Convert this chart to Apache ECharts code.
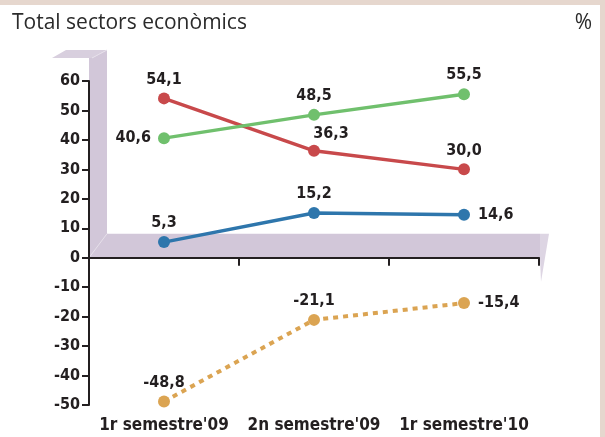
<!DOCTYPE html>
<html>
<head>
<meta charset="utf-8">
<script src="https://cdn.jsdelivr.net/npm/echarts@6/dist/echarts.min.js"></script>
<style>
html, body { margin: 0; padding: 0; background: #fff; }
#chart { width: 605px; height: 437px; }
</style>
</head>
<body>
<div id="chart"></div>
<script>
// 分类
var categories = ['1r semestre\'09', '2n semestre\'09', '1r semestre\'10'];
// 各条线的数值
var redValues = [54.1, 36.3, 30.0];
var greenValues = [40.6, 48.5, 55.5];
var blueValues = [5.3, 15.2, 14.6];
var orangeValues = [-48.8, -21.1, -15.4];
// 纵轴刻度
var yMin = -50;
var yMax = 60;
var yStep = 10;

var narrow = "'DejaVu Sans Condensed', 'DejaVu Sans', sans-serif";
var wallColor = '#d2c7d9';

// 标签位置
var posTop = { position: 'top' };
var posLeft = { position: 'left', distance: 7 };
var posRight = { position: 'right', distance: 8 };
var posTopRight = { position: 'top', offset: [17, 2] };

function fmt (p) {
    return p.value.toFixed(1).replace('.', ',');
}

function makeSeries (values, color, dashed, labelPos) {
    return {
        type: 'line',
        xAxisIndex: 0,
        data: values.map(function (v, i) {
            return { value: v, label: labelPos[i] };
        }),
        symbol: 'circle',
        symbolSize: 12,
        z: 3,
        lineStyle: { color: color, width: dashed ? 4 : 3.5, type: dashed ? [5, 5] : 'solid' },
        itemStyle: { color: color },
        label: {
            show: true,
            position: 'top',
            distance: 5,
            formatter: fmt,
            fontFamily: narrow,
            fontWeight: 'bold',
            fontSize: 16,
            color: '#231f20'
        },
        animation: false
    };
}

var chart = echarts.init(document.getElementById('chart'));

var option = {
    animation: false,
    title: [
        {
            text: 'Total sectors econòmics',
            left: 7, top: 8,
            textStyle: { fontFamily: 'Open Sans', fontSize: 21, fontWeight: 'normal', color: '#2b2b2b' }
        },
        {
            text: '%',
            right: 8, top: 8,
            textStyle: { fontFamily: 'Open Sans', fontSize: 21, fontWeight: 'normal', color: '#2b2b2b' }
        }
    ],
    grid: { left: 89, right: 66, top: 81, bottom: 32 },
    xAxis: [
        {
            type: 'category',
            data: categories,
            axisLine: { onZero: true, lineStyle: { color: '#231f20', width: 2 } },
            axisTick: { show: true, length: 8, lineStyle: { color: '#231f20', width: 2 } },
            axisLabel: { show: false },
            z: 4
        },
        {
            type: 'category',
            data: categories,
            position: 'bottom',
            axisLine: { show: false, onZero: false },
            axisTick: { show: false },
            axisLabel: {
                interval: 0, margin: 12,
                fontFamily: narrow, fontWeight: 'bold', fontSize: 17, color: '#231f20'
            }
        }
    ],
    yAxis: {
        type: 'value',
        min: yMin,
        max: yMax,
        interval: yStep,
        splitLine: { show: false },
        axisLine: { show: true, lineStyle: { color: '#231f20', width: 2 } },
        axisTick: { show: true, length: 7, lineStyle: { color: '#231f20', width: 2 } },
        axisLabel: { margin: 9, fontFamily: narrow, fontWeight: 'bold', fontSize: 16, color: '#231f20' },
        z: 4
    },
    series: [
        makeSeries(redValues, '#c8494b', false, [posTop, posTopRight, posTop]),
        makeSeries(greenValues, '#70c06d', false, [posLeft, posTop, posTop]),
        makeSeries(blueValues, '#2e76ac', false, [posTop, posTop, posRight]),
        makeSeries(orangeValues, '#dba452', true, [posTop, posTop, posRight])
    ]
};

chart.setOption(option);

// 画背景的立体墙
function drawWall () {
    var c0 = chart.convertToPixel({ xAxisIndex: 0 }, 0);
    var c1 = chart.convertToPixel({ xAxisIndex: 0 }, 1);
    var c2 = chart.convertToPixel({ xAxisIndex: 0 }, 2);
    var band = c1 - c0;
    var x0 = c0 - band / 2;
    var xE = c2 + band / 2;
    var y0 = chart.convertToPixel({ yAxisIndex: 0 }, 0);
    var yT = chart.convertToPixel({ yAxisIndex: 0 }, yMax) - 31;

    chart.setOption({
        graphic: [
            { type: 'rect', shape: { x: 0, y: 0, width: 605, height: 5 }, style: { fill: '#e6d7ce' }, z: -5 },
            { type: 'rect', shape: { x: 600, y: 0, width: 5, height: 437 }, style: { fill: '#e6d7ce' }, z: -5 },
            {
                type: 'polygon', z: -4,
                shape: { points: [
                    [x0, yT + 8], [x0 + 18, yT + 8], [x0 + 18, y0 - 24],
                    [xE + 1, y0 - 24], [xE + 1, y0], [x0, y0]
                ] },
                style: { fill: wallColor }
            },
            {
                type: 'polygon', z: -4,
                shape: { points: [[x0 - 37, yT + 8], [x0 - 23, yT], [x0 + 18, yT], [x0 + 3, yT + 8]] },
                style: { fill: '#d8cfde' }
            },
            {
                type: 'polygon', z: -4,
                shape: { points: [[x0 + 3, yT + 8], [x0 + 18, yT], [x0 + 18, yT + 8]] },
                style: { fill: wallColor }
            },
            {
                type: 'polygon', z: -4,
                shape: { points: [[xE + 1, y0 - 24], [xE + 10, y0 - 24], [xE + 2, y0 + 24], [xE + 1, y0]] },
                style: { fill: '#ddd5e3' }
            },
            {
                type: 'line', z: -3,
                shape: { x1: x0, y1: y0, x2: x0 + 18, y2: y0 - 24 },
                style: { stroke: '#e6e0ea', lineWidth: 1 }
            },
            {
                type: 'line', z: -3,
                shape: { x1: x0 + 3, y1: yT + 8, x2: x0 + 18, y2: yT },
                style: { stroke: '#e6e0ea', lineWidth: 1 }
            }
        ]
    });
}

drawWall();
</script>
</body>
</html>
